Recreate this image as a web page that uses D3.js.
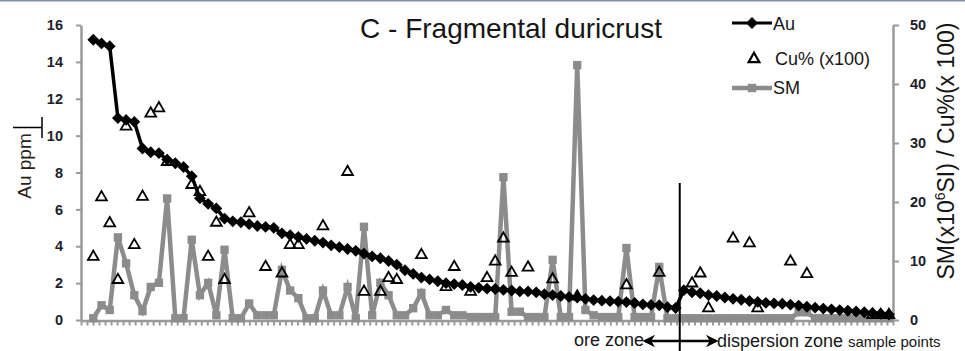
<!DOCTYPE html>
<html>
<head>
<meta charset="utf-8">
<script src="https://cdn.jsdelivr.net/npm/d3@7"></script>
<style>
  html, body { margin: 0; padding: 0; background: #fff; }
  svg { display: block; }
  svg text { font-family: "Liberation Sans", Arial, sans-serif; }
</style>
</head>
<body>
<svg id="chart" width="965" height="351"></svg>
<script>
// Sample points along the traverse (ore zone first, then dispersion zone)
const sampleIndex = d3.range(98);

// Au (ppm), left axis
const auPpm = [
  15.2, 15.0, 14.85, 10.95, 10.85, 10.75, 9.3, 9.1, 9.05, 8.7,
  8.5, 8.3, 7.8, 6.6, 6.3, 6.05, 5.5, 5.35, 5.3, 5.2,
  5.1, 5.05, 5.0, 4.7, 4.6, 4.5, 4.4, 4.3, 4.2, 4.05,
  3.95, 3.85, 3.75, 3.6, 3.45, 3.35, 3.2, 3.0, 2.7, 2.5,
  2.3, 2.2, 2.1, 2.0, 1.95, 1.9, 1.8, 1.75, 1.7, 1.68,
  1.63, 1.6, 1.55, 1.55, 1.5, 1.4, 1.35, 1.3, 1.25, 1.22,
  1.15, 1.08, 1.05, 1.02, 1.0, 0.97, 0.92, 0.85, 0.82, 0.8,
  0.7, 0.65, 1.62, 1.5, 1.45, 1.35, 1.3, 1.22, 1.15, 1.1,
  1.03, 0.98, 0.93, 0.9, 0.88, 0.83, 0.78, 0.72, 0.67, 0.62,
  0.58, 0.54, 0.5, 0.46, 0.42, 0.38, 0.34, 0.3
];

// Cu % (x100), right axis; null = not analysed
const cuPct100 = [
  10.7, 20.8, 16.4, 6.8, 32.8, 12.7, 20.9, 35.0, 35.9, 26.8,
  null, null, 22.9, 21.7, 10.7, 16.5, 6.8, null, null, 18.1,
  null, 9.0, null, 7.9, 12.7, 12.7, null, null, 15.9, null,
  null, 25.1, null, 4.8, null, 4.8, 7.1, 6.8, null, null,
  11.0, null, null, 5.6, 9.0, null, 4.8, null, 7.1, 9.9,
  13.8, 8.0, null, 8.9, null, null, 6.9, null, null, 4.0,
  null, null, null, null, null, 5.9, null, null, null, 8.0,
  null, null, null, 6.2, 7.9, 2.0, null, null, 13.8, null,
  13.0, 2.0, null, null, null, 9.9, null, 7.8, null, null,
  null, null, null, null, null, 0.85, 0.85, 0.85
];

// Magnetic susceptibility SM (x10^6 SI), right axis
const smSI = [
  0.3, 2.5, 1.7, 14.0, 9.6, 4.2, 1.5, 5.6, 6.3, 20.6,
  0.3, 0.3, 13.6, 4.2, 6.3, 0.8, 11.9, 0.3, 0.3, 2.8,
  0.8, 0.8, 0.8, 8.5, 5.0, 3.7, 0.3, 0.3, 5.0, 0.8,
  0.8, 5.6, 0.3, 15.8, 0.8, 6.3, 4.2, 0.8, 0.8, 2.0,
  4.6, 0.8, 0.8, 1.7, 0.8, 0.8, 0.5, 0.5, 0.5, 0.5,
  24.2, 1.4, 1.4, 0.5, 0.5, 0.5, 10.2, 0.5, 0.5, 43.2,
  1.7, 0.8, 0.5, 0.5, 0.5, 12.2, 0.5, 0.5, 0.5, 9.0,
  0.3, 0.3, 0.3, 0.3, 0.3, 0.3, 0.3, 0.3, 0.3, 0.3,
  0.3, 0.3, 0.3, 0.3, 0.3, 0.3, 1.3, 1.3, 0.3, 0.3,
  0.3, 0.3, 0.3, 0.3, 0.3, 0.3, 0.3, 0.3
];

const leftTicks = [0, 2, 4, 6, 8, 10, 12, 14, 16];
const rightTicks = [0, 10, 20, 30, 40, 50];
const legendLabels = ["Au", "Cu% (x100)", "SM"];
const zoneBoundary = 71.5;   // between last ore-zone and first dispersion-zone sample
const minorTickCount = 135;

const FONT = "'Liberation Sans', Arial, sans-serif";
const svg = d3.select("#chart");
const axisGrey = "#9a9a9a";
const smGrey = "#8c8c8c";
const ink = "#161616";

const x = d3.scaleLinear().domain([-1.5, 97.5]).range([81, 893]);
const yL = d3.scaleLinear().domain([0, 16]).range([320, 25]);
const yR = d3.scaleLinear().domain([0, 50]).range([320, 25]);

// thin frame line along the top edge
svg.append("rect").attr("x", 0).attr("y", 0).attr("width", 965).attr("height", 1.5)
  .attr("fill", "#8291b0");

// ---- axes ----
function styleAxis(g) {
  g.attr("font-family", FONT);
  g.select(".domain").attr("stroke", axisGrey).attr("stroke-width", 2.5);
  g.selectAll(".tick line").attr("stroke", axisGrey).attr("stroke-width", 2);
  g.selectAll(".tick text")
    .attr("fill", "#1d1d2b").attr("font-size", 14.5).attr("font-weight", "bold");
}

const xTickVals = d3.range(minorTickCount + 1).map(k => -1.5 + k * 99 / minorTickCount);
svg.append("g").attr("transform", "translate(0,320.5)")
  .call(d3.axisBottom(x).tickValues(xTickVals).tickSize(5).tickSizeOuter(0).tickFormat(""))
  .call(styleAxis);

svg.append("g").attr("transform", "translate(81,0)")
  .call(d3.axisLeft(yL).tickValues(leftTicks).tickSize(5).tickSizeOuter(0).tickPadding(13))
  .call(styleAxis);

svg.append("g").attr("transform", "translate(893,0)")
  .call(d3.axisRight(yR).tickValues(rightTicks).tickSize(6).tickSizeOuter(0).tickPadding(11))
  .call(styleAxis);

// ---- series ----
const diamond = d3.symbol().type(d3.symbolSquare).size(70)();
const square = d3.symbol().type(d3.symbolSquare).size(70)();
const triangle = d3.symbol().type(d3.symbolTriangle).size(50)();

// SM
svg.append("path")
  .datum(smSI)
  .attr("fill", "none").attr("stroke", smGrey).attr("stroke-width", 4.5)
  .attr("stroke-linejoin", "miter")
  .attr("d", d3.line().x((d, i) => x(i)).y(d => yR(d)));
svg.append("g").selectAll("path").data(smSI).join("path")
  .attr("d", square).attr("fill", smGrey)
  .attr("transform", (d, i) => `translate(${x(i)},${yR(d)})`);

// Au
svg.append("path")
  .datum(auPpm)
  .attr("fill", "none").attr("stroke", "#000").attr("stroke-width", 3.5)
  .attr("d", d3.line().x((d, i) => x(i)).y(d => yL(d)));
svg.append("g").selectAll("path").data(auPpm).join("path")
  .attr("d", diamond).attr("fill", "#000")
  .attr("transform", (d, i) => `translate(${x(i)},${yL(d)}) rotate(45)`);

// Cu
svg.append("g").selectAll("path")
  .data(sampleIndex.filter(i => cuPct100[i] != null))
  .join("path")
  .attr("d", triangle).attr("fill", "none").attr("stroke", "#000").attr("stroke-width", 1.8)
  .attr("transform", i => `translate(${x(i)},${yR(cuPct100[i])})`);

// ---- zone boundary and annotations ----
const bx = x(zoneBoundary);
svg.append("line").attr("x1", bx).attr("x2", bx).attr("y1", 183).attr("y2", 351)
  .attr("stroke", "#000").attr("stroke-width", 2);

const defs = svg.append("defs");
defs.append("marker").attr("id", "head")
  .attr("viewBox", "0 0 10 10").attr("refX", 8).attr("refY", 5)
  .attr("markerWidth", 5).attr("markerHeight", 5)
  .attr("markerUnits", "strokeWidth")
  .attr("orient", "auto-start-reverse")
  .append("path").attr("d", "M0,0 L10,5 L0,10 L3,5 Z").attr("fill", "#000");

svg.append("line").attr("x1", 645).attr("x2", 716).attr("y1", 341).attr("y2", 341)
  .attr("stroke", "#000").attr("stroke-width", 2.5)
  .attr("marker-start", "url(#head)").attr("marker-end", "url(#head)");

svg.append("text").attr("x", 644).attr("y", 346).attr("text-anchor", "end")
  .attr("font-family", FONT).attr("font-size", 18).attr("fill", ink).text("ore zone");
svg.append("text").attr("x", 717).attr("y", 347)
  .attr("font-family", FONT).attr("font-size", 18).attr("fill", ink).text("dispersion zone");
svg.append("text").attr("x", 848).attr("y", 347)
  .attr("font-family", FONT).attr("font-size", 15).attr("fill", ink).text("sample points");

// ---- titles ----
svg.append("text").attr("x", 511).attr("y", 38).attr("text-anchor", "middle")
  .attr("font-family", FONT).attr("font-size", 28).attr("fill", ink)
  .text("C - Fragmental duricrust");

svg.append("text").attr("transform", "translate(31,166) rotate(-90)")
  .attr("text-anchor", "middle").attr("font-family", FONT).attr("font-size", 19)
  .attr("fill", "#2b2118")
  .text("Au ppm");
svg.append("path").attr("d", "M13,127.5 H42 M42,117 V138")
  .attr("stroke", "#000").attr("stroke-width", 1.5).attr("fill", "none");

const rLabel = svg.append("text").attr("transform", "translate(954,151) rotate(-90)")
  .attr("text-anchor", "middle").attr("font-family", FONT).attr("font-size", 23)
  .attr("fill", ink);
rLabel.append("tspan").text("SM(x10");
rLabel.append("tspan").attr("dy", -9).attr("font-size", 14).text("6");
rLabel.append("tspan").attr("dy", 9).text("SI) / Cu%(x 100)");

// ---- legend ----
const legend = svg.append("g");
legend.append("line").attr("x1", 732).attr("x2", 772).attr("y1", 23).attr("y2", 23)
  .attr("stroke", "#000").attr("stroke-width", 3);
legend.append("path").attr("d", diamond).attr("fill", "#000")
  .attr("transform", "translate(752,23) rotate(45)");
legend.append("path").attr("d", triangle).attr("fill", "none")
  .attr("stroke", "#000").attr("stroke-width", 2.2)
  .attr("transform", "translate(754,59)");
legend.append("line").attr("x1", 732).attr("x2", 772).attr("y1", 88).attr("y2", 88)
  .attr("stroke", smGrey).attr("stroke-width", 4.5);
legend.append("path").attr("d", square).attr("fill", smGrey)
  .attr("transform", "translate(752,88)");
legend.selectAll("text").data(legendLabels).join("text")
  .attr("x", (d, i) => i === 1 ? 775 : 773)
  .attr("y", (d, i) => [30, 65, 94][i])
  .attr("font-family", FONT).attr("font-size", 18).attr("fill", ink).text(d => d);
</script>
</body>
</html>
